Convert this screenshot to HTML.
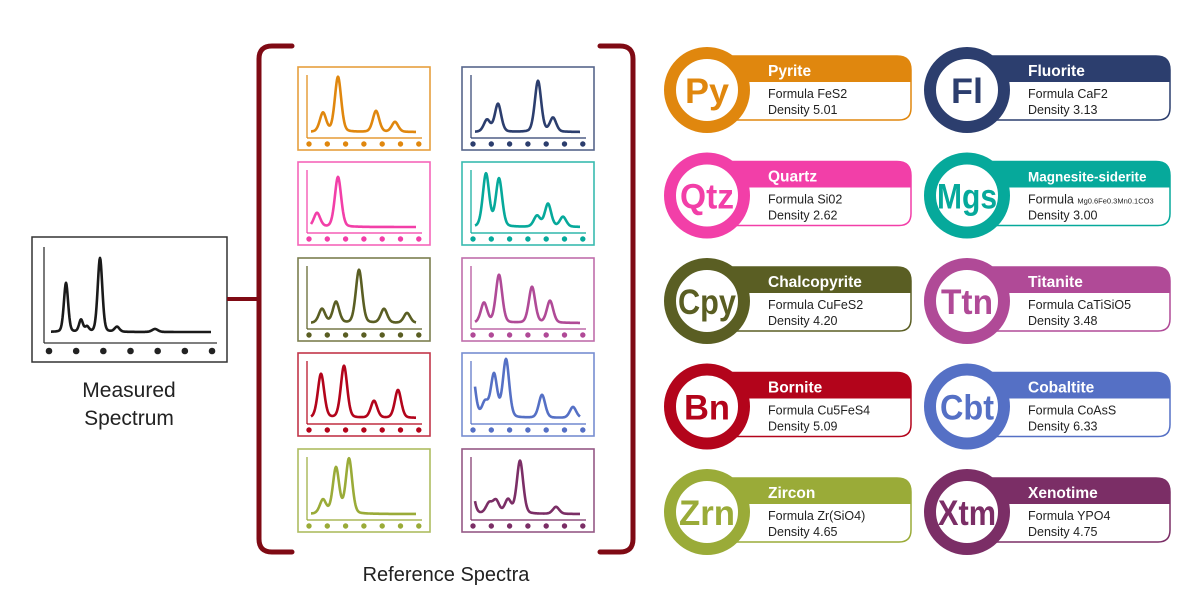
<!DOCTYPE html>
<html><head><meta charset="utf-8"><style>
html,body{margin:0;padding:0;background:#fff;}
svg{display:block;font-family:"Liberation Sans",Arial,sans-serif;}
.t{font-weight:bold;fill:#fff;font-size:15.5px;}
.f{fill:#222;font-size:12.5px;}
.ab{font-weight:bold;font-size:35px;text-anchor:middle;}
</style></head><body>
<svg id="s" width="1200" height="600" viewBox="0 0 1200 600" xmlns="http://www.w3.org/2000/svg">
<rect x="32" y="237" width="195" height="125" fill="#fff" stroke="#333" stroke-width="1.5"/>
<line x1="44" y1="247" x2="44" y2="343" stroke="#333" stroke-width="1.3"/>
<line x1="44" y1="343" x2="217" y2="343" stroke="#333" stroke-width="1.3"/>
<g id="mdots" fill="#222"></g>
<path id="mpath" fill="none" stroke="#1a1a1a" stroke-width="2.6" stroke-linejoin="round"/>
<line x1="227" y1="299" x2="259" y2="299" stroke="#7f0a14" stroke-width="4"/>
<text x="129" y="397" font-size="21" text-anchor="middle" fill="#222">Measured</text>
<text x="129" y="425" font-size="21" text-anchor="middle" fill="#222">Spectrum</text>
<path d="M292 46 H272 Q259 46 259 59 V539 Q259 552 272 552 H292" fill="none" stroke="#7f0a14" stroke-width="5" stroke-linecap="round"/>
<path d="M600 46 H620 Q633 46 633 59 V539 Q633 552 620 552 H600" fill="none" stroke="#7f0a14" stroke-width="5" stroke-linecap="round"/>
<text x="446" y="581" font-size="20" text-anchor="middle" fill="#222">Reference Spectra</text>
<g id="refs"></g>

<g transform="translate(707,90)" fill="#e0870e" stroke="#e0870e">
<path d="M0 -34 H190 Q204 -34 204 -20 V18 Q204 30 192 30 H0 Z" fill="#fff" stroke-width="1.5"/>
<path d="M0 -34 H190 Q204 -34 204 -20 V-8 H0 Z" stroke="none"/>
<circle r="37" fill="#fff" stroke-width="12"/>
<text class="ab" y="13" stroke="none" textLength="44" lengthAdjust="spacingAndGlyphs">Py</text>
<text class="t" x="61" y="-14" stroke="none">Pyrite</text>
<text class="f" x="61" y="8" stroke="none">Formula  FeS2</text>
<text class="f" x="61" y="24" stroke="none">Density  5.01</text>
</g>
<g transform="translate(707,195.5)" fill="#f23fa8" stroke="#f23fa8">
<path d="M0 -34 H190 Q204 -34 204 -20 V18 Q204 30 192 30 H0 Z" fill="#fff" stroke-width="1.5"/>
<path d="M0 -34 H190 Q204 -34 204 -20 V-8 H0 Z" stroke="none"/>
<circle r="37" fill="#fff" stroke-width="12"/>
<text class="ab" y="13" stroke="none" textLength="54" lengthAdjust="spacingAndGlyphs">Qtz</text>
<text class="t" x="61" y="-14" stroke="none">Quartz</text>
<text class="f" x="61" y="8" stroke="none">Formula  Si02</text>
<text class="f" x="61" y="24" stroke="none">Density  2.62</text>
</g>
<g transform="translate(707,301)" fill="#5a5e23" stroke="#5a5e23">
<path d="M0 -34 H190 Q204 -34 204 -20 V18 Q204 30 192 30 H0 Z" fill="#fff" stroke-width="1.5"/>
<path d="M0 -34 H190 Q204 -34 204 -20 V-8 H0 Z" stroke="none"/>
<circle r="37" fill="#fff" stroke-width="12"/>
<text class="ab" y="13" stroke="none" textLength="58" lengthAdjust="spacingAndGlyphs">Cpy</text>
<text class="t" x="61" y="-14" stroke="none">Chalcopyrite</text>
<text class="f" x="61" y="8" stroke="none">Formula  CuFeS2</text>
<text class="f" x="61" y="24" stroke="none">Density  4.20</text>
</g>
<g transform="translate(707,406.5)" fill="#b3041b" stroke="#b3041b">
<path d="M0 -34 H190 Q204 -34 204 -20 V18 Q204 30 192 30 H0 Z" fill="#fff" stroke-width="1.5"/>
<path d="M0 -34 H190 Q204 -34 204 -20 V-8 H0 Z" stroke="none"/>
<circle r="37" fill="#fff" stroke-width="12"/>
<text class="ab" y="13" stroke="none" textLength="46" lengthAdjust="spacingAndGlyphs">Bn</text>
<text class="t" x="61" y="-14" stroke="none">Bornite</text>
<text class="f" x="61" y="8" stroke="none">Formula  Cu5FeS4</text>
<text class="f" x="61" y="24" stroke="none">Density  5.09</text>
</g>
<g transform="translate(707,512)" fill="#9aab38" stroke="#9aab38">
<path d="M0 -34 H190 Q204 -34 204 -20 V18 Q204 30 192 30 H0 Z" fill="#fff" stroke-width="1.5"/>
<path d="M0 -34 H190 Q204 -34 204 -20 V-8 H0 Z" stroke="none"/>
<circle r="37" fill="#fff" stroke-width="12"/>
<text class="ab" y="13" stroke="none" textLength="56" lengthAdjust="spacingAndGlyphs">Zrn</text>
<text class="t" x="61" y="-14" stroke="none">Zircon</text>
<text class="f" x="61" y="8" stroke="none">Formula  Zr(SiO4)</text>
<text class="f" x="61" y="24" stroke="none">Density  4.65</text>
</g>
<g transform="translate(967,90)" fill="#2c3e6e" stroke="#2c3e6e">
<path d="M0 -34 H189 Q203 -34 203 -20 V18 Q203 30 191 30 H0 Z" fill="#fff" stroke-width="1.5"/>
<path d="M0 -34 H189 Q203 -34 203 -20 V-8 H0 Z" stroke="none"/>
<circle r="37" fill="#fff" stroke-width="12"/>
<text class="ab" y="13" stroke="none" textLength="32" lengthAdjust="spacingAndGlyphs">Fl</text>
<text class="t" x="61" y="-14" stroke="none">Fluorite</text>
<text class="f" x="61" y="8" stroke="none">Formula  CaF2</text>
<text class="f" x="61" y="24" stroke="none">Density  3.13</text>
</g>
<g transform="translate(967,195.5)" fill="#06a99b" stroke="#06a99b">
<path d="M0 -34 H189 Q203 -34 203 -20 V18 Q203 30 191 30 H0 Z" fill="#fff" stroke-width="1.5"/>
<path d="M0 -34 H189 Q203 -34 203 -20 V-8 H0 Z" stroke="none"/>
<circle r="37" fill="#fff" stroke-width="12"/>
<text class="ab" y="13" stroke="none" textLength="60" lengthAdjust="spacingAndGlyphs">Mgs</text>
<text class="t" x="61" y="-14" stroke="none" style="font-size:13.5px">Magnesite-siderite</text>
<text class="f" x="61" y="8" stroke="none">Formula  <tspan font-size="7.5">Mg0.6Fe0.3Mn0.1CO3</tspan></text>
<text class="f" x="61" y="24" stroke="none">Density  3.00</text>
</g>
<g transform="translate(967,301)" fill="#b04a97" stroke="#b04a97">
<path d="M0 -34 H189 Q203 -34 203 -20 V18 Q203 30 191 30 H0 Z" fill="#fff" stroke-width="1.5"/>
<path d="M0 -34 H189 Q203 -34 203 -20 V-8 H0 Z" stroke="none"/>
<circle r="37" fill="#fff" stroke-width="12"/>
<text class="ab" y="13" stroke="none" textLength="52" lengthAdjust="spacingAndGlyphs">Ttn</text>
<text class="t" x="61" y="-14" stroke="none">Titanite</text>
<text class="f" x="61" y="8" stroke="none">Formula  CaTiSiO5</text>
<text class="f" x="61" y="24" stroke="none">Density  3.48</text>
</g>
<g transform="translate(967,406.5)" fill="#5570c5" stroke="#5570c5">
<path d="M0 -34 H189 Q203 -34 203 -20 V18 Q203 30 191 30 H0 Z" fill="#fff" stroke-width="1.5"/>
<path d="M0 -34 H189 Q203 -34 203 -20 V-8 H0 Z" stroke="none"/>
<circle r="37" fill="#fff" stroke-width="12"/>
<text class="ab" y="13" stroke="none" textLength="54" lengthAdjust="spacingAndGlyphs">Cbt</text>
<text class="t" x="61" y="-14" stroke="none">Cobaltite</text>
<text class="f" x="61" y="8" stroke="none">Formula  CoAsS</text>
<text class="f" x="61" y="24" stroke="none">Density  6.33</text>
</g>
<g transform="translate(967,512)" fill="#7b2e66" stroke="#7b2e66">
<path d="M0 -34 H189 Q203 -34 203 -20 V18 Q203 30 191 30 H0 Z" fill="#fff" stroke-width="1.5"/>
<path d="M0 -34 H189 Q203 -34 203 -20 V-8 H0 Z" stroke="none"/>
<circle r="37" fill="#fff" stroke-width="12"/>
<text class="ab" y="13" stroke="none" textLength="58" lengthAdjust="spacingAndGlyphs">Xtm</text>
<text class="t" x="61" y="-14" stroke="none">Xenotime</text>
<text class="f" x="61" y="8" stroke="none">Formula  YPO4</text>
<text class="f" x="61" y="24" stroke="none">Density  4.75</text>
</g>
</svg>
<script>
var NS="http://www.w3.org/2000/svg";
function curve(x0,y0,base,xs,xe,pk,sig){
 var d="";
 for(var x=xs;x<=xe;x+=0.5){
  var h=0;
  for(var i=0;i<pk.length;i++){var s=pk[i][2]||sig;var u=(x-pk[i][0])/s;h+=pk[i][1]*(0.75*Math.exp(-u*u/2)+0.25/(1+u*u));}
  d+=(d?"L":"M")+(x0+x).toFixed(1)+" "+(y0+base-h).toFixed(1);
 }
 return d;
}
function el(n,a,p){var e=document.createElementNS(NS,n);for(var k in a)e.setAttribute(k,a[k]);p.appendChild(e);return e;}
var mp=[[66,49,2.2],[81,12,2],[87,5,2],[100,74,2.4],[117,5,2.5],[155,3,3]];
document.getElementById("mpath").setAttribute("d",curve(0,0,332,51,211,mp,2.2));
var mg=document.getElementById("mdots");
for(var i=0;i<7;i++)el("circle",{cx:49+i*27.17,cy:351,r:3.3},mg);
var R=document.getElementById("refs");
var boxes=[
 [298,67,"#e0870e",[[25,19],[40,55],[78,21],[97,10]]],
 [462,67,"#2c3e6e",[[25,12],[36,28],[76,51],[91,14]]],
 [298,162,"#f23fa8",[[19,14],[40,50]]],
 [462,162,"#06a99b",[[24,53],[37,48],[75,11],[86,23],[101,10]]],
 [298,258,"#5a5e23",[[24,14],[38,21],[61,53],[86,14],[109,10]]],
 [462,258,"#b04a97",[[22,20],[37,48],[70,36],[88,22]]],
 [298,353,"#b3041b",[[23,44],[46,52],[76,17],[100,28]]],
 [462,353,"#5570c5",[[10,48],[23,15],[32,43],[44,58],[80,23],[111,11]]],
 [298,449,"#9aab38",[[25,14],[38,46],[51,55]]],
 [462,449,"#7b2e66",[[8,40],[27,10],[34,13],[46,14],[58,53],[94,7]]]
];
boxes.forEach(function(b){
 var x=b[0],y=b[1],c=b[2];
 el("rect",{x:x,y:y,width:132,height:83,fill:"#fff",stroke:c,"stroke-width":1.6,"stroke-opacity":0.8},R);
 el("line",{x1:x+9,y1:y+8,x2:x+9,y2:y+71,stroke:c,"stroke-width":1.2},R);
 el("line",{x1:x+9,y1:y+71,x2:x+124,y2:y+71,stroke:c,"stroke-width":1.2},R);
 for(var i=0;i<7;i++)el("circle",{cx:x+11+i*18.3,cy:y+77,r:2.7,fill:c},R);
 el("path",{d:curve(x,y,65,13,118,b[3],3.3),fill:"none",stroke:c,"stroke-width":2.6,"stroke-linejoin":"round"},R);
});
</script>
</body></html>
